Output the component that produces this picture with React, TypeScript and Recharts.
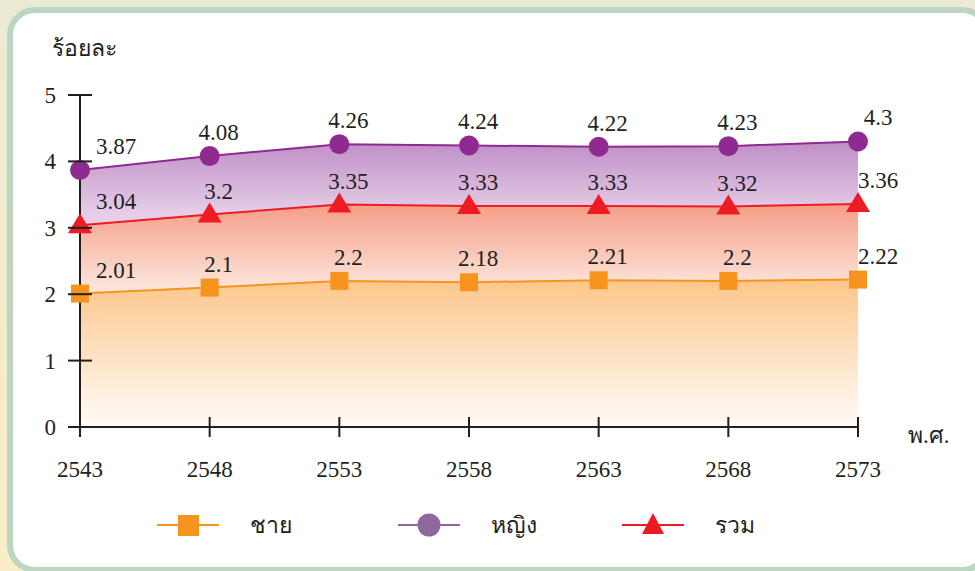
import React from 'react';
import { AreaChart, Area, XAxis, YAxis } from 'recharts';

const YEARS = ['2543', '2548', '2553', '2558', '2563', '2568', '2573'];
const MEN = [2.01, 2.1, 2.2, 2.18, 2.21, 2.2, 2.22];
const WOMEN = [3.87, 4.08, 4.26, 4.24, 4.22, 4.23, 4.3];
const TOTAL = [3.04, 3.2, 3.35, 3.33, 3.33, 3.32, 3.36];
const Y_TICKS = [0, 1, 2, 3, 4, 5];
const SERIES_NAMES = ['ชาย', 'หญิง', 'รวม'];
const Y_TITLE = 'ร้อยละ';
const X_TITLE = 'พ.ศ.';

const data = YEARS.map((year, i) => ({ year, men: MEN[i], women: WOMEN[i], total: TOTAL[i] }));

const NUM_FONT = '"Liberation Serif", "DejaVu Serif", serif';
const INK = '#231F20';
const MEN_COLOR = '#F7941D';
const WOMEN_COLOR = '#8E2A90';
const TOTAL_COLOR = '#ED1C24';

const YTick = (props: any) => {
  const { x, y, payload } = props;
  return (
    <g>
      <line x1={x - 12} x2={x + 12} y1={y} y2={y} stroke={INK} strokeWidth={2} />
      <text x={x - 24} y={y} dy={8} textAnchor="end" fontFamily={NUM_FONT} fontSize={23} fill={INK}>
        {payload.value}
      </text>
    </g>
  );
};

const XTick = (props: any) => {
  const { x, y, payload } = props;
  return (
    <g>
      <line x1={x} x2={x} y1={y - 10} y2={y + 10} stroke={INK} strokeWidth={2} />
      <text x={x} y={y + 50} textAnchor="middle" fontFamily={NUM_FONT} fontSize={23} fill={INK}>
        {payload.value}
      </text>
    </g>
  );
};

const renderLabel = (props: any) => {
  const { x, y, value, index } = props;
  const dx = index === 0 ? 36 : index === YEARS.length - 1 ? 20 : 9;
  return (
    <text x={x + dx} y={y - 16} textAnchor="middle" fontFamily={NUM_FONT} fontSize={23} fill={INK}>
      {value}
    </text>
  );
};

const Square = (props: any) => {
  const { cx, cy } = props;
  return <rect x={cx - 9} y={cy - 9} width={18} height={18} fill={MEN_COLOR} />;
};

const Circle = (props: any) => {
  const { cx, cy } = props;
  return <circle cx={cx} cy={cy} r={10} fill={WOMEN_COLOR} />;
};

const Triangle = (props: any) => {
  const { cx, cy } = props;
  return <polygon points={`${cx},${cy - 12} ${cx - 12},${cy + 8} ${cx + 12},${cy + 8}`} fill={TOTAL_COLOR} />;
};

const LegendRow = () => {
  const items = [
    { name: SERIES_NAMES[0], color: MEN_COLOR, x: 157, marker: 'square' },
    { name: SERIES_NAMES[1], color: '#8D679E', x: 398, marker: 'circle' },
    { name: SERIES_NAMES[2], color: TOTAL_COLOR, x: 622, marker: 'triangle' },
  ];
  return (
    <svg width={975} height={60} style={{ position: 'absolute', left: 0, top: 495 }}>
      {items.map((it) => {
        const cx = it.x + 31;
        const cy = 30;
        return (
          <g key={it.name}>
            <line x1={it.x} x2={it.x + 62} y1={cy} y2={cy} stroke={it.color} strokeWidth={2} />
            {it.marker === 'square' && <rect x={cx - 10} y={cy - 10} width={21} height={21} fill={it.color} />}
            {it.marker === 'circle' && <circle cx={cx} cy={cy} r={11.5} fill={it.color} />}
            {it.marker === 'triangle' && (
              <polygon points={`${cx},${cy - 12} ${cx - 11},${cy + 9} ${cx + 11},${cy + 9}`} fill={it.color} />
            )}
            <text x={it.x + 93} y={cy + 8} fontFamily='"Noto Sans", "DejaVu Sans", sans-serif' fontSize={23} fill={INK}>
              {it.name}
            </text>
          </g>
        );
      })}
    </svg>
  );
};

export default function App() {
  return (
    <div
      style={{
        position: 'absolute',
        left: 0,
        top: 0,
        width: 975,
        height: 571,
        overflow: 'hidden',
        background: 'linear-gradient(180deg, #EBEAD3 0%, #FAEEC6 100%)',
      }}
    >
      <div
        style={{
          position: 'absolute',
          left: 7,
          top: 7,
          width: 983,
          height: 566,
          boxSizing: 'border-box',
          border: '6px solid #BCD6C2',
          borderRadius: 28,
          background: '#FFFFFF',
        }}
      />
      <div style={{ position: 'absolute', left: 0, top: 0 }}>
        <AreaChart width={975} height={571} data={data} margin={{ top: 95, right: 117, bottom: 114, left: 20 }}>
          <defs>
            <linearGradient id="gWomen" x1="0" y1="0" x2="0" y2="1">
              <stop offset="0%" stopColor="#BF8FC6" />
              <stop offset="25%" stopColor="#E6CDE8" />
              <stop offset="100%" stopColor="#F3E6F3" />
            </linearGradient>
            <linearGradient id="gTotal" x1="0" y1="0" x2="0" y2="1">
              <stop offset="0%" stopColor="#F59D86" />
              <stop offset="36%" stopColor="#FDE2D8" />
              <stop offset="100%" stopColor="#FFF2EC" />
            </linearGradient>
            <linearGradient id="gMen" x1="0" y1="0" x2="0" y2="1">
              <stop offset="0%" stopColor="#FDC68B" />
              <stop offset="100%" stopColor="#FFFCF8" />
            </linearGradient>
          </defs>
          <XAxis
            dataKey="year"
            scale="point"
            padding={{ left: 0, right: 0 }}
            height={30}
            tickSize={0}
            tickMargin={0}
            axisLine={{ stroke: INK, strokeWidth: 2 }}
            tick={<XTick />}
            interval={0}
          />
          <YAxis
            type="number"
            domain={[0, 5]}
            ticks={Y_TICKS}
            width={60}
            tickSize={0}
            tickMargin={0}
            axisLine={{ stroke: INK, strokeWidth: 2 }}
            tick={<YTick />}
          />
          <Area
            type="linear"
            dataKey="women"
            stroke={WOMEN_COLOR}
            strokeWidth={2}
            fill="url(#gWomen)"
            fillOpacity={1}
            dot={<Circle />}
            activeDot={false}
            label={renderLabel}
            isAnimationActive={false}
          />
          <Area
            type="linear"
            dataKey="total"
            stroke={TOTAL_COLOR}
            strokeWidth={2}
            fill="url(#gTotal)"
            fillOpacity={1}
            dot={<Triangle />}
            activeDot={false}
            label={renderLabel}
            isAnimationActive={false}
          />
          <Area
            type="linear"
            dataKey="men"
            stroke={MEN_COLOR}
            strokeWidth={2}
            fill="url(#gMen)"
            fillOpacity={1}
            dot={<Square />}
            activeDot={false}
            label={renderLabel}
            isAnimationActive={false}
          />
        </AreaChart>
      </div>
      <div
        style={{
          position: 'absolute',
          left: 52,
          top: 34,
          fontFamily: NUM_FONT,
          fontSize: 23,
          color: INK,
          lineHeight: '30px',
        }}
      >
        {Y_TITLE}
      </div>
      <div
        style={{
          position: 'absolute',
          left: 908,
          top: 421,
          fontFamily: NUM_FONT,
          fontSize: 23,
          color: INK,
          lineHeight: '30px',
        }}
      >
        {X_TITLE}
      </div>
      <LegendRow />
    </div>
  );
}
